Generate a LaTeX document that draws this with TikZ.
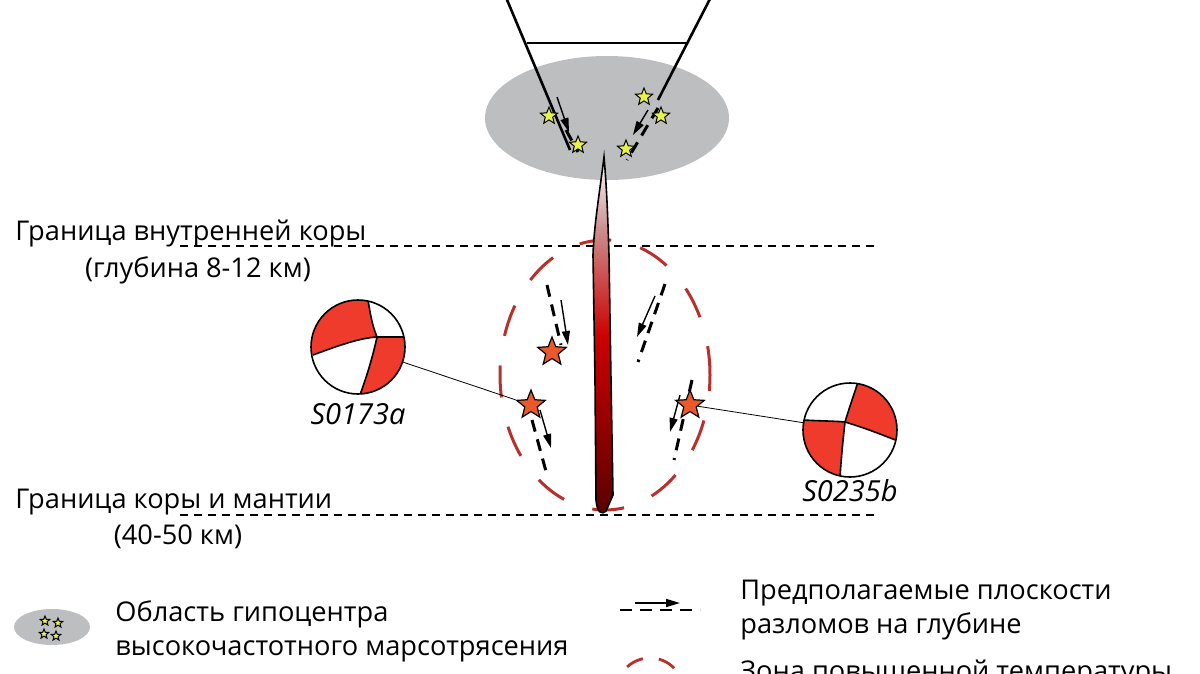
\documentclass[tikz,border=0pt]{standalone}
\usepackage{fontspec}
\setmainfont{Open Sans}
\usetikzlibrary{shapes.geometric,arrows.meta}
\definecolor{grayreg}{HTML}{BDBEC0}
\definecolor{hotred}{HTML}{B8302C}
\definecolor{ballred}{HTML}{EE3B2B}
\definecolor{starorg}{HTML}{E9592C}
\definecolor{staryel}{HTML}{E8F24A}
\pgfdeclareverticalshading{plumeshade}{100bp}{color(0bp)=(white); color(25bp)=(white); color(35bp)=(white!70!red!80!black); color(50bp)=(red!80!black); color(75bp)=(black!65!red); color(100bp)=(black!65!red)}
\begin{document}
\begin{tikzpicture}[x=0.5pt,y=-0.5pt,
  lbl/.style={font=\fontsize{13.6}{15}\selectfont,inner sep=0pt},
  ystar/.style={star,star points=5,star point ratio=2.3,fill=staryel,draw=black,line width=0.5pt,minimum size=9pt,inner sep=0pt},
  ostar/.style={star,star points=5,star point ratio=2.3,fill=starorg,draw=black,line width=0.6pt,minimum size=15pt,inner sep=0pt},
  bnd/.style={dashed,line width=0.6pt,dash pattern=on 4pt off 3pt},
  fault/.style={line width=1.5pt,dash pattern=on 6pt off 4pt},
  slip/.style={line width=0.7pt,-{Triangle[length=7pt,width=4pt]}},
  hot/.style={draw=hotred,line width=1.5pt,dash pattern=on 16pt off 15pt},
  ball/.style={draw=black,line width=0.8pt}]
\useasboundingbox (0,0) rectangle (1200,674);
\clip (0,0) rectangle (1200,674);
% region
\fill[grayreg] (607,118) ellipse [x radius=122,y radius=62];
\draw[line width=1.3pt] (505,-5) -- (570,150);
\draw[line width=1.3pt] (712,-5) -- (658,100);
\draw[line width=1.1pt] (527,43) -- (687,43);
\draw[fault] (566,130) -- (578,152);
\draw[slip] (557,97) -- (569,132);
\draw[fault] (658,108) -- (627,160);
\draw[slip] (648,110) -- (633,135);
\node[ystar] (y1) at (549,116) {};
\node[ystar] (y2) at (578,145) {};
\node[ystar] (y3) at (644,97) {};
\node[ystar] (y4) at (661,116) {};
\node[ystar] (y5) at (626,149) {};
% boundaries
\draw[bnd] (180,246) -- (875,246);
\draw[bnd] (180,515) -- (875,515);
\node[lbl,anchor=base west] (t1) at (15,240) {Граница внутренней коры};
\node[lbl,anchor=base] (t2) at (198,278) {(глубина 8-12 км)};
\node[lbl,anchor=base west] (t3) at (15,508) {Граница коры и мантии};
\node[lbl,anchor=base] (t4) at (178,544) {(40-50 км)};
% hot zone
\draw[hot,dash phase=8pt] (605,375) ellipse [x radius=105,y radius=135];
% plume
\path[shading=plumeshade,shading angle=180,draw=black,line width=0.8pt]
 (604,157) .. controls (600,190) and (594,225) .. (593,255) -- (595,380) -- (596,500) .. controls (597,513) and (602,515) .. (606,511) -- (613,495) -- (611,380) -- (609,255) .. controls (608,225) and (607,190) .. (604,157) -- cycle;
% faults
\draw[fault] (547,285) -- (561,345);
\draw[slip] (561,300) -- (568,345);
\draw[fault] (665,284) -- (638,362);
\draw[slip] (655,296) -- (637,337);
\draw[fault] (532,420) -- (547,475);
\draw[slip] (540,410) -- (551,448);
\draw[fault] (692,380) -- (674,460);
\draw[slip] (680,395) -- (670,432);
\node[ostar] (s1) at (552,352) {};
\node[ostar] (s2) at (531,405) {};
\node[ostar] (s3) at (690,405) {};
% beachballs
\coordinate (bA) at (358,347);
\coordinate (bB) at (850,430);
\begin{scope}
\clip (bA) circle [radius=47];
\fill[ballred] (313,355) .. controls (340,345) and (360,338) .. (377,337) .. controls (372,325) and (370,312) .. (368,302) -- (368,250) -- (250,250) -- cycle;
\fill[ballred] (405,337) -- (377,337) .. controls (372,360) and (366,378) .. (360,393) -- (360,450) -- (450,450) -- cycle;
\draw[line width=0.8pt] (313,355) .. controls (340,345) and (360,338) .. (377,337) -- (406,337);
\draw[line width=0.8pt] (368,300) .. controls (370,312) and (372,325) .. (377,337) .. controls (372,360) and (366,378) .. (360,395);
\end{scope}
\node[ball,circle,minimum size=47pt,inner sep=0pt] (ballA) at (bA) {};
\begin{scope}
\clip (bB) circle [radius=47];
\fill[ballred] (857,384) .. controls (852,400) and (848,412) .. (845,422) .. controls (865,428) and (880,434) .. (896,440) -- (950,440) -- (950,350) -- (857,350) -- cycle;
\fill[ballred] (805,420) .. controls (820,421) and (835,421) .. (845,422) .. controls (843,440) and (841,460) .. (840,476) -- (840,520) -- (760,520) -- (760,420) -- cycle;
\draw[line width=0.8pt] (858,382) .. controls (852,400) and (848,412) .. (845,422) .. controls (843,440) and (841,460) .. (840,478);
\draw[line width=0.8pt] (803,420) .. controls (820,421) and (835,421) .. (845,422) .. controls (865,428) and (880,434) .. (898,441);
\end{scope}
\node[ball,circle,minimum size=47pt,inner sep=0pt] (ballB) at (bB) {};
\draw[line width=0.4pt] (ballA) -- (s2);
\draw[line width=0.4pt] (s3) -- (ballB);
\node[lbl,font=\fontsize{14.5}{16}\selectfont\itshape,anchor=base] (lA) at (358,424) {S0173a};
\node[lbl,font=\fontsize{14.5}{16}\selectfont\itshape,anchor=base] (lB) at (850,501) {S0235b};
% legend
\fill[grayreg] (52,627) ellipse [x radius=38,y radius=18];
\node[ystar,minimum size=5pt] (l1) at (45,621) {};
\node[ystar,minimum size=5pt] (l2) at (58,623) {};
\node[ystar,minimum size=5pt] (l3) at (44,634) {};
\node[ystar,minimum size=5pt] (l4) at (56,636) {};
\node[lbl,anchor=base west] (g1) at (115,621) {Область гипоцентра};
\node[lbl,anchor=base west] (g2) at (115,655) {высокочастотного марсотрясения};
\draw[fault,line width=1.3pt,dash pattern=on 6pt off 4pt] (620,610) -- (700,610);
\draw[line width=0.8pt,-{Triangle[length=7pt,width=4pt]}] (635,603) -- (680,603);
\node[lbl,anchor=base west] (g3) at (740,599) {Предполагаемые плоскости};
\node[lbl,anchor=base west] (g4) at (740,633) {разломов на глубине};
\draw[hot,line width=1.4pt,dash pattern=on 9pt off 8pt,dash phase=4pt] (650,690) ellipse [x radius=33,y radius=32];
\node[lbl,anchor=base west] (g5) at (740,680) {Зона повышенной температуры};
\end{tikzpicture}
\end{document}
